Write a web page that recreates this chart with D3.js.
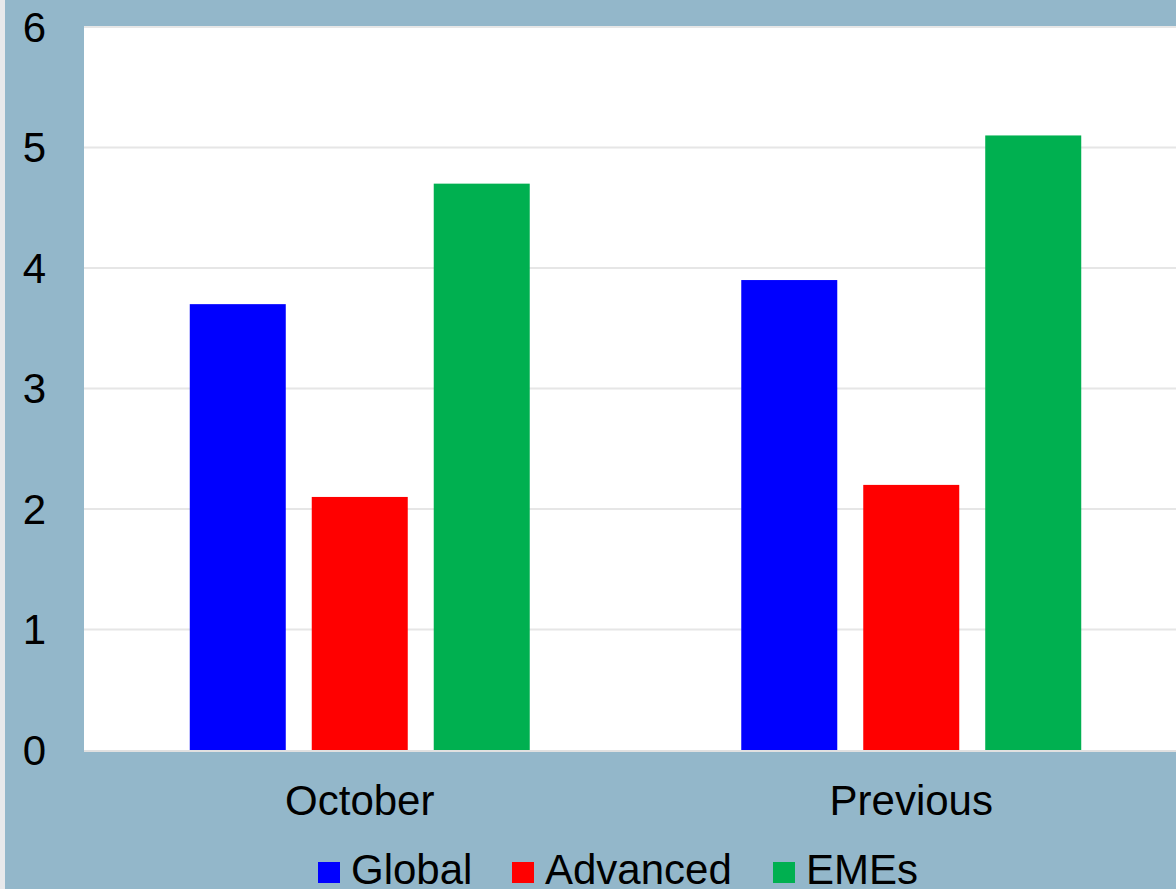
<!DOCTYPE html>
<html>
<head>
<meta charset="utf-8">
<script src="https://cdn.jsdelivr.net/npm/d3@7"></script>
<style>
  html, body { margin: 0; padding: 0; background: #93b7ca; }
  svg { display: block; }
</style>
</head>
<body>
<svg id="chart" width="1176" height="889"></svg>
<script>
// Growth forecasts by region, two vintages
const categories = ["October", "Previous"];
const seriesNames = ["Global", "Advanced", "EMEs"];
const globalValues = [3.7, 3.9];
const advancedValues = [2.1, 2.2];
const emeValues = [4.7, 5.1];
const yTicks = [0, 1, 2, 3, 4, 5, 6];
const seriesColors = ["#0000ff", "#ff0000", "#00b050"];

const seriesValues = [globalValues, advancedValues, emeValues];

const svg = d3.select("#chart");
const W = 1176, H = 889;
const plot = { left: 84, right: 1187, top: 27, bottom: 750 };

// page backdrop with a pale strip along the left edge
svg.append("rect").attr("width", W).attr("height", H).attr("fill", "#93b7ca");
svg.append("rect").attr("width", 5).attr("height", H).attr("fill", "#e8e9eb");

const x = d3.scaleBand().domain(categories).range([plot.left, plot.right]).padding(0);
const xs = d3.scaleBand().domain(seriesNames).range([0, x.bandwidth()])
  .paddingInner(0.213).paddingOuter(0.867);
const y = d3.scaleLinear().domain([0, 6]).range([plot.bottom, plot.top]);

// white plotting area
svg.append("rect")
  .attr("x", plot.left).attr("y", plot.top - 1)
  .attr("width", plot.right - plot.left).attr("height", plot.bottom - plot.top + 1)
  .attr("fill", "#ffffff");

// horizontal gridlines
svg.append("g").selectAll("line").data(yTicks.filter(t => t > 0)).join("line")
  .attr("x1", plot.left).attr("x2", plot.right)
  .attr("y1", d => y(d)).attr("y2", d => y(d))
  .attr("stroke", "#e6e6e6").attr("stroke-width", 2);

// bars
const groups = svg.append("g").selectAll("g").data(categories).join("g")
  .attr("transform", d => `translate(${x(d)},0)`);
groups.selectAll("rect")
  .data((c, ci) => seriesNames.map((s, si) => ({ s, v: seriesValues[si][ci], color: seriesColors[si] })))
  .join("rect")
  .attr("x", d => xs(d.s))
  .attr("width", xs.bandwidth())
  .attr("y", d => y(d.v))
  .attr("height", d => y(0) - y(d.v))
  .attr("fill", d => d.color);

// baseline
svg.append("line")
  .attr("x1", plot.left).attr("x2", plot.right)
  .attr("y1", y(0) + 1).attr("y2", y(0) + 1)
  .attr("stroke", "#e0e0e0").attr("stroke-width", 2);

// y axis labels
const yAxis = d3.axisLeft(y).tickValues(yTicks).tickSize(0).tickPadding(0).tickFormat(d3.format("d"));
const yg = svg.append("g").attr("transform", "translate(46,0)").call(yAxis);
yg.select(".domain").remove();
yg.selectAll("text")
  .attr("font-family", "Liberation Sans, Arial, sans-serif")
  .attr("font-size", 42).attr("fill", "#000").attr("dy", "0.34em");

// category labels
const xAxis = d3.axisBottom(x).tickSize(0).tickPadding(0);
const xg = svg.append("g").attr("transform", `translate(0,${plot.bottom})`).call(xAxis);
xg.select(".domain").remove();
xg.selectAll("text")
  .attr("font-family", "Liberation Sans, Arial, sans-serif")
  .attr("font-size", 42).attr("fill", "#000").attr("y", 65).attr("dy", 0);

// legend along the bottom edge
const legendX = [318, 512, 773];
const legend = svg.append("g").selectAll("g").data(seriesNames).join("g")
  .attr("transform", (d, i) => `translate(${legendX[i]},862)`);
legend.append("rect").attr("width", 22).attr("height", 21)
  .attr("fill", (d, i) => seriesColors[i]);
legend.append("text")
  .attr("x", 33).attr("y", 22)
  .attr("font-family", "Liberation Sans, Arial, sans-serif")
  .attr("font-size", 42).attr("fill", "#000")
  .text(d => d);
</script>
</body>
</html>
